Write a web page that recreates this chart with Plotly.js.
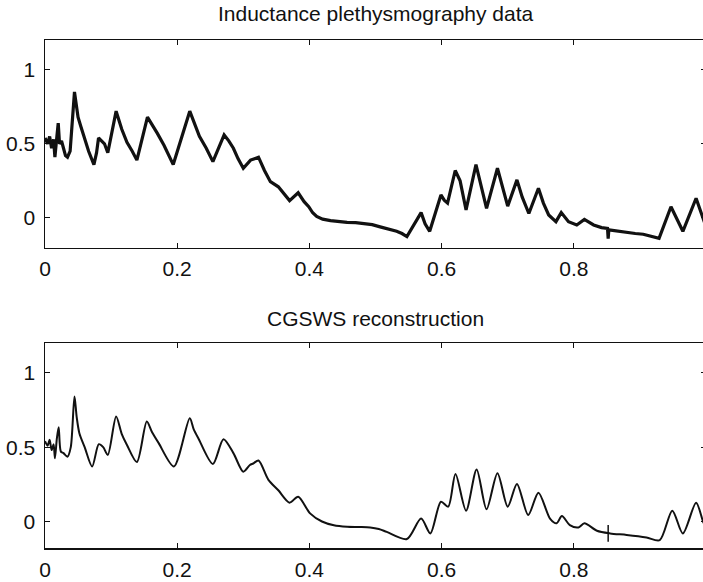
<!DOCTYPE html>
<html>
<head>
<meta charset="utf-8">
<script src="https://cdn.plot.ly/plotly-3.0.1.min.js"></script>
<style>
html,body{margin:0;padding:0;overflow:hidden;background:#fff;}
#chart{width:710px;height:582px;}
</style>
</head>
<body>
<div id="chart"></div>
<script>
// Inductance plethysmography data (raw, noisy)
const rawX = [0.000,0.004,0.007,0.010,0.013,0.015,0.018,0.020,0.022,0.025,0.028,0.031,0.034,0.038,0.0446,0.050,0.054,0.060,0.066,0.074,0.078,0.081,0.086,0.090,0.095,0.1076,0.116,0.124,0.132,0.139,0.155,0.162,0.170,0.180,0.188,0.194,0.219,0.226,0.2336,0.244,0.254,0.271,0.278,0.285,0.292,0.300,0.311,0.317,0.323,0.332,0.341,0.353,0.362,0.370,0.383,0.392,0.399,0.405,0.411,0.420,0.432,0.445,0.457,0.470,0.482,0.495,0.507,0.520,0.532,0.540,0.5475,0.569,0.575,0.582,0.599,0.604,0.609,0.6206,0.628,0.637,0.652,0.668,0.6845,0.700,0.714,0.722,0.732,0.7465,0.754,0.762,0.773,0.781,0.792,0.8045,0.816,0.830,0.842,0.851,0.852,0.853,0.868,0.880,0.893,0.905,0.920,0.929,0.947,0.965,0.985,0.9955,1.0];
const rawY = [0.54,0.50,0.55,0.47,0.53,0.41,0.55,0.64,0.50,0.52,0.47,0.42,0.41,0.45,0.85,0.68,0.62,0.53,0.45,0.36,0.44,0.54,0.52,0.50,0.44,0.72,0.60,0.51,0.45,0.39,0.68,0.63,0.57,0.49,0.41,0.36,0.72,0.64,0.55,0.47,0.38,0.56,0.52,0.47,0.40,0.335,0.39,0.40,0.41,0.32,0.245,0.21,0.16,0.117,0.17,0.11,0.076,0.035,0.01,-0.008,-0.018,-0.025,-0.03,-0.032,-0.036,-0.045,-0.06,-0.075,-0.09,-0.105,-0.125,0.036,-0.04,-0.09,0.155,0.12,0.10,0.32,0.25,0.054,0.36,0.065,0.335,0.08,0.257,0.14,0.03,0.20,0.10,0.02,-0.025,0.036,-0.025,-0.047,-0.01,-0.047,-0.065,-0.07,-0.14,-0.08,-0.09,-0.10,-0.105,-0.11,-0.125,-0.137,0.076,-0.09,0.133,-0.013,-0.06];

// CGSWS reconstruction (smooth)
const recX = [0.000,0.004,0.007,0.010,0.013,0.015,0.018,0.0207,0.024,0.028,0.034,0.039,0.0446,0.048,0.052,0.060,0.0713,0.0814,0.088,0.095,0.1076,0.116,0.124,0.139,0.154,0.162,0.172,0.195,0.219,0.225,0.232,0.254,0.270,0.285,0.300,0.310,0.315,0.323,0.338,0.353,0.370,0.383,0.401,0.419,0.437,0.457,0.475,0.492,0.505,0.517,0.5475,0.569,0.583,0.599,0.610,0.621,0.637,0.653,0.668,0.6845,0.700,0.714,0.731,0.7465,0.764,0.774,0.782,0.794,0.807,0.816,0.835,0.855,0.880,0.910,0.930,0.949,0.965,0.985,0.9955,1.0];
const recY = [0.54,0.51,0.55,0.48,0.52,0.425,0.56,0.634,0.47,0.46,0.436,0.50,0.84,0.70,0.594,0.50,0.37,0.52,0.50,0.448,0.706,0.59,0.515,0.40,0.672,0.60,0.527,0.37,0.695,0.62,0.56,0.387,0.553,0.46,0.335,0.38,0.39,0.41,0.28,0.21,0.127,0.167,0.055,0.0,-0.025,-0.035,-0.037,-0.04,-0.05,-0.07,-0.118,0.02,-0.08,0.133,0.10,0.32,0.073,0.35,0.082,0.325,0.10,0.253,0.044,0.194,0.02,-0.012,0.037,-0.024,-0.04,-0.012,-0.062,-0.08,-0.09,-0.107,-0.125,0.073,-0.08,0.127,0.0,-0.04];

// small vertical mark on the reconstruction
const markX = [0.852];
const markY = [-0.08];

const titles = ["Inductance plethysmography data", "CGSWS reconstruction"];
const xTicks = [0, 0.2, 0.4, 0.6, 0.8, 1];
const xTickText = ["0", "0.2", "0.4", "0.6", "0.8", "1"];
const yTicks = [0, 0.5, 1];
const yTickText = ["0", "0.5", "1"];

const FONT = "Liberation Sans, Arial, Helvetica, sans-serif";
const INK = "#111";

const traces = [
  {x: rawX, y: rawY, type: "scatter", mode: "lines", xaxis: "x", yaxis: "y",
   line: {color: INK, width: 3.2}, hoverinfo: "skip"},
  {x: recX, y: recY, type: "scatter", mode: "lines", xaxis: "x2", yaxis: "y2",
   line: {color: INK, width: 2, shape: "spline", smoothing: 0.8}, hoverinfo: "skip"},
  {x: markX, y: markY, type: "scatter", mode: "markers", xaxis: "x2", yaxis: "y2",
   marker: {symbol: "line-ns-open", size: 12, color: INK, line: {color: INK, width: 1.5}}, hoverinfo: "skip"}
];

function xax(anchor) {
  return {range: [0, 1], anchor: anchor, tickvals: xTicks, ticktext: xTickText,
    ticks: "inside", ticklen: 5, tickwidth: 1, tickcolor: INK,
    showline: true, linecolor: INK, linewidth: 1.5, mirror: "ticks",
    showgrid: false, zeroline: false, ticklabelstandoff: 2,
    tickfont: {family: FONT, size: 21, color: INK}};
}
function yax(anchor, domain, range) {
  return {range: range, anchor: anchor, domain: domain, tickvals: yTicks, ticktext: yTickText,
    ticks: "inside", ticklen: 5, tickwidth: 1, tickcolor: INK,
    showline: true, linecolor: INK, linewidth: 1.5, mirror: "ticks",
    showgrid: false, zeroline: false, ticklabelstandoff: 4,
    tickfont: {family: FONT, size: 21, color: INK}};
}

const layout = {
  width: 710, height: 582,
  margin: {l: 45, r: 4, t: 40, b: 34, pad: 0},
  paper_bgcolor: "#fff", plot_bgcolor: "#fff",
  showlegend: false,
  xaxis: xax("y"),
  yaxis: yax("x", [0.5913, 1], [-0.2, 1.2]),
  xaxis2: xax("y2"),
  yaxis2: yax("x2", [0, 0.4035], [-0.178, 1.2]),
  annotations: [
    {text: titles[0], xref: "paper", yref: "paper", x: 0.5, y: 1.0512, xanchor: "center", yanchor: "middle",
     showarrow: false, font: {family: FONT, size: 21, color: INK}},
    {text: titles[1], xref: "paper", yref: "paper", x: 0.5, y: 0.4508, xanchor: "center", yanchor: "middle",
     showarrow: false, font: {family: FONT, size: 21, color: INK}}
  ]
};

Plotly.newPlot("chart", traces, layout, {displayModeBar: false, staticPlot: true});
</script>
</body>
</html>
